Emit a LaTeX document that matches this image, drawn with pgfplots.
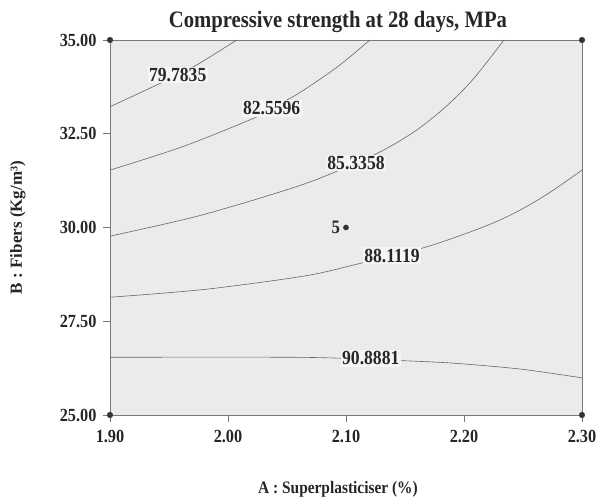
\documentclass[border=0pt]{standalone}
\usepackage{pgfplots}
\pgfplotsset{compat=1.18}
\usepackage{fontspec}
\setmainfont{Liberation Serif}
% slightly condensed face for horizontal text
\newfontfamily\condfont[FakeStretch=0.88]{Liberation Serif}
\definecolor{plotbg}{HTML}{EBEBEB}
\definecolor{labelbg}{HTML}{F5F5F5}
\definecolor{frame}{HTML}{7A7A7A}
\definecolor{contour}{HTML}{666666}
\begin{document}
\begin{tikzpicture}
% overall canvas: axis box plus room for title, tick labels and axis labels
\useasboundingbox (-110pt,-82pt) rectangle (488pt,415pt);
\begin{axis}[
  scale only axis,
  width=472pt, height=375pt,
  xmin=1.9, xmax=2.3, ymin=25, ymax=35,
  axis background/.style={fill=plotbg},
  axis line style={frame, line width=0.8pt},
  xtick={1.9,2.0,2.1,2.2,2.3},
  ytick={25,27.5,30,32.5,35},
  tick align=outside,
  major tick length=7pt,
  tick style={frame, line width=0.8pt},
  xtick pos=bottom, ytick pos=left,
  /pgf/number format/assume math mode=true,
  /pgf/number format/.cd, fixed, fixed zerofill, precision=2, /pgfplots/.cd,
  ticklabel style={font=\condfont\fontsize{18.5}{18.5}\selectfont\bfseries, text=black!85},
  xticklabel style={yshift=-5pt},
  yticklabel style={xshift=-3pt},
  title={Compressive strength at 28 days, MPa},
  title style={font=\condfont\fontsize{23.5}{23.5}\selectfont\bfseries, text=black!85,
    at={(axis description cs:0.483,1.032)}, anchor=center},
  xlabel={A : Superplasticiser (\%)},
  ylabel={B : Fibers (Kg/m³)},
  xlabel style={font=\condfont\fontsize{17.5}{17.5}\selectfont\bfseries, text=black!85,
    at={(axis description cs:0.483,-0.197)}, anchor=center},
  ylabel style={font=\fontsize{17}{17}\selectfont\bfseries, text=black!85,
    at={(axis description cs:-0.195,0.5)}, anchor=center},
  clip=false,
]
% contour lines of the fitted response surface
\addplot[contour, line width=0.6pt, smooth] coordinates {
  (1.9,33.22) (1.9424,33.84) (1.9574,34.07) (1.976,34.38) (2.0074,35)};
\addplot[contour, line width=0.6pt, smooth] coordinates {
  (1.9,31.53) (1.962,32.16) (2.0215,32.91) (2.037,33.18) (2.061,33.6) (2.093,34.29) (2.1203,35)};
\addplot[contour, line width=0.6pt, smooth] coordinates {
  (1.9,29.77) (1.9763,30.32) (2.061,31.12) (2.1085,31.72) (2.134,32.10) (2.160,32.6)
  (2.1853,33.24) (2.2079,33.96) (2.2339,35)};
\addplot[contour, line width=0.6pt, smooth] coordinates {
  (1.9,28.14) (1.9805,28.35) (2.0653,28.71) (2.1104,29.03) (2.1669,29.47)
  (2.2136,29.98) (2.2418,30.37) (2.2701,30.88) (2.3,31.53)};
\addplot[contour, line width=0.6pt, smooth] coordinates {
  (1.9,26.54) (2.05,26.54) (2.10,26.51) (2.147,26.45) (2.192,26.38) (2.249,26.22) (2.3,25.99)};
% contour level labels
\begin{scope}[every node/.style={fill=labelbg, inner sep=1.5pt, text=black!85,
    font=\condfont\fontsize{20}{20}\selectfont\bfseries}]
\node at (axis cs:1.9574,34.07) {79.7835};
\node at (axis cs:2.037,33.18) {82.5596};
\node at (axis cs:2.1085,31.72) {85.3358};
\node at (axis cs:2.139,29.25) {88.1119};
\node at (axis cs:2.121,26.51) {90.8881};
\end{scope}
% design points
\addplot[only marks, mark=*, mark size=2.8pt, black!80] coordinates {
  (1.9,25) (1.9,35) (2.3,25) (2.3,35)};
\addplot[only marks, mark=*, mark size=2.6pt, black!80] coordinates {(2.1,30)};
\node[anchor=east, font=\condfont\fontsize{19}{19}\selectfont\bfseries, text=black!85, inner sep=1pt]
  at (axis cs:2.096,30) {5};
\end{axis}
\end{tikzpicture}
\end{document}
